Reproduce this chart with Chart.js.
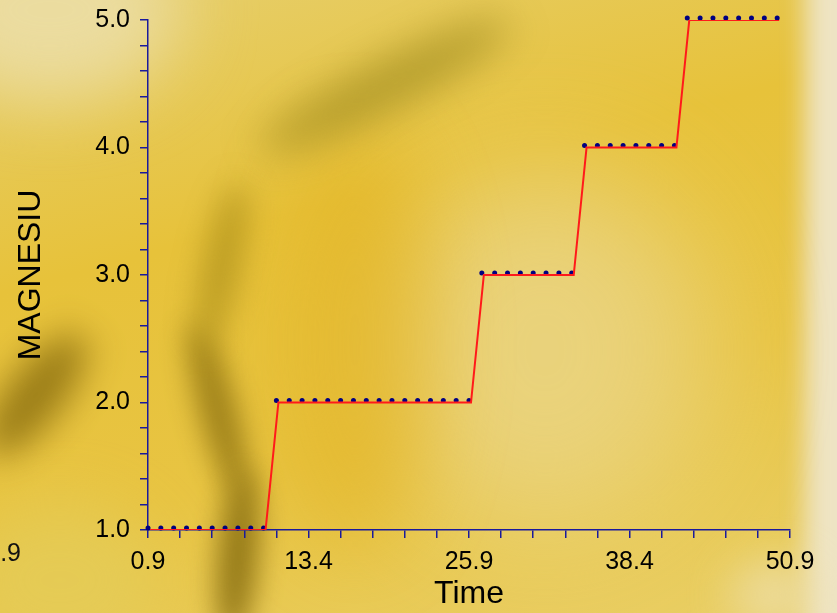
<!DOCTYPE html>
<html>
<head>
<meta charset="utf-8">
<script src="https://cdn.jsdelivr.net/npm/chart.js@4"></script>
<style>
  html, body { margin: 0; padding: 0; }
  body { width: 837px; height: 613px; overflow: hidden; position: relative;
         background: linear-gradient(165deg, #e6cf6e 0%, #e7c23a 35%, #e8c442 65%, #e9cf66 100%); }
  #bg { position: absolute; left: 0; top: 0; width: 837px; height: 613px; overflow: hidden; }
  .blob { position: absolute; border-radius: 50%; }
  .b1 { left: -80px; top: -80px; width: 260px; height: 180px; background: #ebdca0; filter: blur(35px); }
  .b2 { left: 805px; top: -40px; width: 90px; height: 700px; background: #eee4c4; filter: blur(12px); border-radius: 0; }
  .b3 { left: 380px; top: 170px; width: 330px; height: 360px; background: #ead68a; opacity: .8; filter: blur(60px); }
  .b4 { left: 200px; top: 320px; width: 36px; height: 180px; background: #8f7412; transform: rotate(-15deg); filter: blur(14px); opacity: .85; }
  .b4b { left: 218px; top: 470px; width: 40px; height: 170px; background: #8a7012; transform: rotate(5deg); filter: blur(14px); opacity: .9; }
  .b5 { left: 205px; top: 180px; width: 34px; height: 170px; background: #a88c18; transform: rotate(12deg); filter: blur(16px); opacity: .75; }
  .b6 { left: 245px; top: 62px; width: 280px; height: 48px; background: #a38f22; transform: rotate(-27deg); filter: blur(20px); opacity: .75; }
  .b7 { left: 8px; top: 320px; width: 55px; height: 150px; background: #8b6f10; transform: rotate(38deg); filter: blur(18px); opacity: .85; }
  .b8 { left: 280px; top: 130px; width: 150px; height: 420px; background: #e2b220; filter: blur(40px); opacity: .55; }
  .b9 { left: -40px; top: 500px; width: 200px; height: 160px; background: #e4cd5a; filter: blur(30px); opacity: .7; }
  .b10 { left: 730px; top: 560px; width: 90px; height: 70px; background: #eee0b0; filter: blur(22px); opacity: .7; }
  #wrap { position: absolute; left: 0; top: 0; width: 837px; height: 613px; }
</style>
</head>
<body>
<div id="bg">
  <div class="blob b1"></div><div class="blob b2"></div><div class="blob b3"></div>
  <div class="blob b8"></div><div class="blob b4"></div><div class="blob b4b"></div>
  <div class="blob b5"></div><div class="blob b6"></div><div class="blob b7"></div>
  <div class="blob b9"></div><div class="blob b10"></div>
</div>
<div id="wrap"><canvas id="chart" width="837" height="613"></canvas></div>
<script>
const timeValues = [
  0.9, 1.9, 2.9, 3.9, 4.9, 5.9, 6.9, 7.9, 8.9, 9.9,
  10.9, 11.9, 12.9, 13.9, 14.9, 15.9, 16.9, 17.9, 18.9, 19.9,
  20.9, 21.9, 22.9, 23.9, 24.9, 25.9, 26.9, 27.9, 28.9, 29.9,
  30.9, 31.9, 32.9, 33.9, 34.9, 35.9, 36.9, 37.9, 38.9, 39.9,
  40.9, 41.9, 42.9, 43.9, 44.9, 45.9, 46.9, 47.9, 48.9, 49.9
];
const magnesiuValues = [
  1, 1, 1, 1, 1, 1, 1, 1, 1, 1,
  2, 2, 2, 2, 2, 2, 2, 2, 2, 2,
  2, 2, 2, 2, 2, 2, 3, 3, 3, 3,
  3, 3, 3, 3, 4, 4, 4, 4, 4, 4,
  4, 4, 5, 5, 5, 5, 5, 5, 5, 5
];
const xTicks = [0.9, 3.4, 5.9, 8.4, 10.9, 13.4, 15.9, 18.4, 20.9, 23.4, 25.9,
                28.4, 30.9, 33.4, 35.9, 38.4, 40.9, 43.4, 45.9, 48.4, 50.9];
const xTickLabels = ['0.9', '13.4', '25.9', '38.4', '50.9'];
const yTicks = [1.0, 1.2, 1.4, 1.6, 1.8, 2.0, 2.2, 2.4, 2.6, 2.8, 3.0,
                3.2, 3.4, 3.6, 3.8, 4.0, 4.2, 4.4, 4.6, 4.8, 5.0];
const yTickLabels = ['1.0', '2.0', '3.0', '4.0', '5.0'];

const axisColor = '#1a1a9c';
const tickFont = { family: 'Liberation Sans, Arial, sans-serif', size: 25 };
// small line height so the top label does not push the plot down
const yTickFont = { family: 'Liberation Sans, Arial, sans-serif', size: 25, lineHeight: 0.6 };
const titleFont = { family: 'Liberation Sans, Arial, sans-serif', size: 32, lineHeight: 1.15 };

const points = timeValues.map((t, i) => ({ x: t, y: magnesiuValues[i] }));

// each dataset is drawn slightly shifted, like in the original picture
const shiftPlugin = {
  id: 'shift',
  beforeDatasetDraw(chart, args) {
    const s = chart.data.datasets[args.index].shift || [0, 0];
    chart.ctx.save();
    chart.ctx.translate(s[0], s[1]);
  },
  afterDatasetDraw(chart) {
    chart.ctx.restore();
  }
};

// a label of a neighbouring axis that is cut by the left edge
const strayLabel = {
  id: 'strayLabel',
  afterDraw(chart) {
    const ctx = chart.ctx;
    ctx.save();
    ctx.font = '25px Liberation Sans, Arial, sans-serif';
    ctx.fillStyle = '#111';
    ctx.textAlign = 'right';
    ctx.textBaseline = 'middle';
    ctx.fillText(xTickLabels[0], 21, 554);
    ctx.restore();
  }
};

new Chart(document.getElementById('chart'), {
  type: 'scatter',
  data: {
    datasets: [
      {
        data: points,
        showLine: true,
        borderColor: '#ff1a1a',
        borderWidth: 2,
        pointRadius: 0,
        shift: [2, 0]
      },
      {
        data: points,
        showLine: false,
        pointRadius: 2.5,
        pointBackgroundColor: '#000080',
        pointBorderWidth: 0,
        clip: false,
        shift: [0, -2]
      }
    ]
  },
  options: {
    responsive: false,
    animation: false,
    events: [],
    layout: { padding: { top: 20, right: 47, bottom: 0, left: 0 } },
    plugins: { legend: { display: false }, tooltip: { enabled: false } },
    scales: {
      x: {
        type: 'linear',
        min: 0.9,
        max: 50.9,
        afterBuildTicks: s => { s.ticks = xTicks.map(v => ({ value: v })); },
        afterFit: s => { s.height = 83; },
        border: { color: axisColor, width: 1.5 },
        grid: { drawOnChartArea: false, tickLength: 8, color: axisColor, lineWidth: 1.5 },
        ticks: {
          autoSkip: false,
          maxRotation: 0,
          padding: 9,
          color: '#000',
          font: tickFont,
          callback: v => xTickLabels.find(l => Math.abs(parseFloat(l) - v) < 0.01) || ''
        },
        title: { display: true, text: 'Time', color: '#000', font: titleFont, padding: { top: 0, bottom: 0 } }
      },
      y: {
        min: 1,
        max: 5,
        afterBuildTicks: s => { s.ticks = yTicks.map(v => ({ value: v })); },
        afterFit: s => { s.width = 148; },
        border: { color: axisColor, width: 1.5 },
        grid: { drawOnChartArea: false, tickLength: 8, color: axisColor, lineWidth: 1.5 },
        ticks: {
          autoSkip: false,
          padding: 10,
          color: '#000',
          font: yTickFont,
          callback: v => yTickLabels.find(l => Math.abs(parseFloat(l) - v) < 0.01) || ''
        },
        title: { display: true, text: 'MAGNESIU', color: '#000', font: titleFont, padding: { top: 13, bottom: 0 } }
      }
    }
  },
  plugins: [shiftPlugin, strayLabel]
});
</script>
</body>
</html>
